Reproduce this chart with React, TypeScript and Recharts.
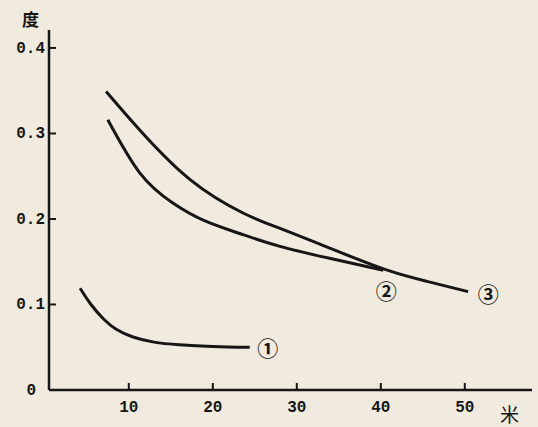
import React from 'react';
import { LineChart, Line, XAxis, YAxis } from 'recharts';

// 距离 (米) vs 值 (度)
const curve1 = [
  { x: 4.2, y: 0.119 },
  { x: 5.5, y: 0.1 },
  { x: 7.0, y: 0.083 },
  { x: 8.5, y: 0.071 },
  { x: 10.5, y: 0.062 },
  { x: 13.0, y: 0.056 },
  { x: 16.0, y: 0.053 },
  { x: 20.0, y: 0.051 },
  { x: 24.4, y: 0.05 },
];

const curve2 = [
  { x: 7.5, y: 0.316 },
  { x: 11.3, y: 0.254 },
  { x: 15.2, y: 0.219 },
  { x: 19.0, y: 0.198 },
  { x: 23.2, y: 0.183 },
  { x: 28.0, y: 0.168 },
  { x: 33.9, y: 0.154 },
  { x: 40.3, y: 0.14 },
];

const curve3 = [
  { x: 7.3, y: 0.349 },
  { x: 11.3, y: 0.304 },
  { x: 17.3, y: 0.246 },
  { x: 23.6, y: 0.207 },
  { x: 28.0, y: 0.189 },
  { x: 33.9, y: 0.166 },
  { x: 40.5, y: 0.141 },
  { x: 45.5, y: 0.127 },
  { x: 50.4, y: 0.115 },
];

const xTicks = [10, 20, 30, 40, 50];
const yTicks = [0, 0.1, 0.2, 0.3, 0.4];
const curveNames = ['①', '②', '③'];

const ink = '#161616';
const paper = '#f1ebdf';
const monoFont = '"Liberation Mono", "DejaVu Sans Mono", monospace';
const cjkFont = '"Noto Sans CJK SC", "Noto Sans", sans-serif';

const YTick = (props: any) => {
  const { x, y, payload } = props;
  const v = payload.value as number;
  return (
    <g>
      <text
        x={v === 0 ? x - 9 : x}
        y={y}
        dy={5}
        textAnchor="end"
        fontFamily={monoFont}
        fontWeight="bold"
        fontSize={16}
        fill={ink}
      >
        {v === 0 ? '0' : v.toFixed(1)}
      </text>
      {v !== 0 && <line x1={x + 4} x2={x + 11} y1={y} y2={y} stroke={ink} strokeWidth={2} />}
    </g>
  );
};

const XTick = (props: any) => {
  const { x, y, payload } = props;
  return (
    <g>
      <line x1={x} x2={x} y1={y - 6} y2={y - 13} stroke={ink} strokeWidth={2} />
      <text
        x={x}
        y={y + 16}
        textAnchor="middle"
        fontFamily={monoFont}
        fontWeight="bold"
        fontSize={16}
        fill={ink}
      >
        {payload.value}
      </text>
    </g>
  );
};

const endLabel = (name: string, count: number, dx: number, dy: number) => (props: any) => {
  const { x, y, index } = props;
  if (index !== count - 1) return null;
  return (
    <text
      key={name}
      x={x + dx}
      y={y + dy}
      textAnchor="middle"
      dominantBaseline="central"
      fontFamily={cjkFont}
      fontWeight="bold"
      fontSize={21}
      fill={ink}
    >
      {name}
    </text>
  );
};

export default function App() {
  return (
    <div style={{ position: 'absolute', left: 0, top: 0, width: 538, height: 427, background: paper }}>
      <LineChart width={538} height={427} margin={{ top: 30, right: 6, bottom: 0, left: 0 }}>
        <XAxis
          type="number"
          dataKey="x"
          domain={[0.5, 58]}
          ticks={xTicks}
          allowDataOverflow
          height={37}
          tickSize={0}
          tickMargin={6}
          tick={<XTick />}
          axisLine={{ stroke: ink, strokeWidth: 2.5 }}
        />
        <YAxis
          type="number"
          dataKey="y"
          domain={[0, 0.421]}
          ticks={yTicks}
          allowDataOverflow
          width={49}
          tickSize={0}
          tickMargin={4}
          tick={<YTick />}
          axisLine={{ stroke: ink, strokeWidth: 2.5 }}
        />
        <Line
          data={curve1}
          dataKey="y"
          type="natural"
          stroke={ink}
          strokeWidth={3}
          dot={false}
          isAnimationActive={false}
          label={endLabel(curveNames[0], curve1.length, 18, 0)}
        />
        <Line
          data={curve2}
          dataKey="y"
          type="natural"
          stroke={ink}
          strokeWidth={3}
          dot={false}
          isAnimationActive={false}
          label={endLabel(curveNames[1], curve2.length, 3, 20)}
        />
        <Line
          data={curve3}
          dataKey="y"
          type="natural"
          stroke={ink}
          strokeWidth={3}
          dot={false}
          isAnimationActive={false}
          label={endLabel(curveNames[2], curve3.length, 20, 1)}
        />
      </LineChart>
      <span
        style={{ position: 'absolute', left: 22, top: 6, fontFamily: cjkFont, fontWeight: 'bold', fontSize: 17, color: ink }}
      >
        度
      </span>
      <span style={{ position: 'absolute', left: 500, top: 400, fontFamily: cjkFont, fontSize: 19, color: ink }}>
        米
      </span>
    </div>
  );
}
